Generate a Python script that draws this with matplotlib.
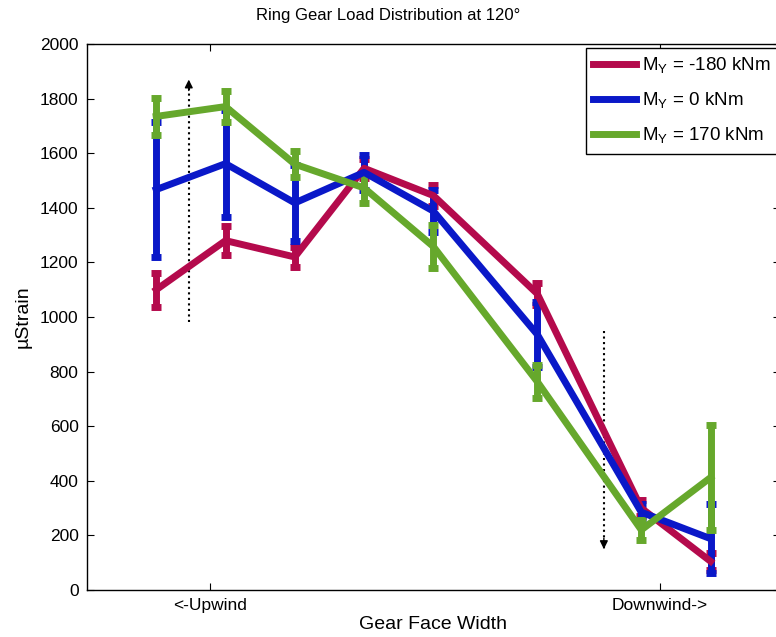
import matplotlib
matplotlib.use("Agg")
import matplotlib.pyplot as plt
from matplotlib.lines import Line2D

plt.rcParams['font.family'] = ['Liberation Sans', 'DejaVu Sans']
plt.rcParams['mathtext.fontset'] = 'custom'
plt.rcParams['mathtext.rm'] = 'Liberation Sans'

# Strain gauge stations across the face width
positions = [1, 2, 3, 4, 5, 6.5, 8, 9]

labels = [r'M$_\mathregular{Y}$ = -180 kNm',
          r'M$_\mathregular{Y}$ = 0 kNm',
          r'M$_\mathregular{Y}$ = 170 kNm']
colors = ['#B40A4C', '#0A18C8', '#66A82C']

strain_neg180 = [1100, 1280, 1220, 1545, 1445, 1085, 300, 105]
err_neg180 = [62, 53, 37, 35, 40, 40, 30, 30]

strain_0 = [1467, 1562, 1418, 1530, 1388, 936, 285, 188]
err_0 = [247, 196, 140, 63, 77, 119, 30, 126]

strain_170 = [1735, 1771, 1560, 1473, 1258, 763, 220, 412]
err_170 = [68, 57, 48, 55, 79, 60, 38, 192]

series = [strain_neg180, strain_0, strain_170]
errors = [err_neg180, err_0, err_170]

tick_pos = [1.78, 8.27]
tick_labels = ['<-Upwind', 'Downwind->']

# load-shift arrows (x, start, end)
arrow_up = (1.47, 980, 1870)
arrow_down = (7.46, 950, 150)

fig = plt.figure(figsize=(7.76, 6.37), dpi=100)
ax = fig.add_axes([0.112, 0.0738, 0.893, 0.857])

handles = []
for y, e, c, lab in zip(series, errors, colors, labels):
    ax.errorbar(positions, y, yerr=e, color=c, lw=5, elinewidth=5,
                capsize=3.5, capthick=5)
    handles.append(Line2D([], [], color=c, lw=5, label=lab))

for x, y0, y1 in [arrow_up, arrow_down]:
    ax.plot([x, x], [y0, y1], color='black', ls=':', lw=1.5)
    d = 1 if y1 > y0 else -1
    ax.annotate('', xy=(x, y1), xytext=(x, y1 - d * 40),
                arrowprops=dict(arrowstyle='-|>', color='black', lw=1,
                                mutation_scale=12, shrinkA=0, shrinkB=0))

ax.set_xlim(0, 10)
ax.set_ylim(0, 2000)
ax.set_yticks(range(0, 2001, 200))
ax.set_xticks(tick_pos)
ax.set_xticklabels(tick_labels)
ax.tick_params(direction='in', length=5, width=0.8, labelsize=12.5,
               top=True, right=True, pad=6)
for s in ax.spines.values():
    s.set_linewidth(1)

fig.text(0.5, 0.975, 'Ring Gear Load Distribution at 120°', fontsize=12,
         ha='center', va='center')
ax.set_xlabel('Gear Face Width', fontsize=14, labelpad=2)
ax.set_ylabel('µStrain', fontsize=14, labelpad=6)

leg = ax.legend(handles=handles, loc='upper right',
                bbox_to_anchor=(0.997, 0.993), fontsize=13.5,
                fancybox=False, framealpha=1, edgecolor='black',
                handlelength=2.3, handletextpad=0.3, borderpad=0.4,
                labelspacing=0.8, borderaxespad=0)
leg.get_frame().set_linewidth(1)

fig.savefig('out.png', dpi=100)
